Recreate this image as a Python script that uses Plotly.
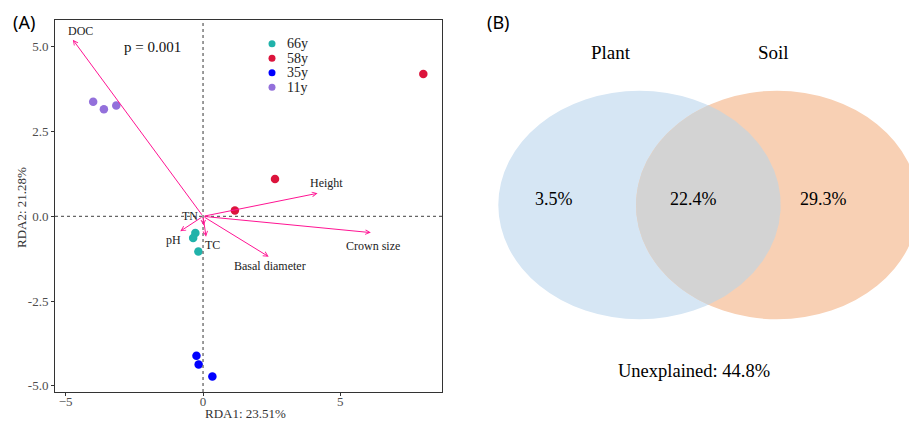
import numpy as np
import plotly.graph_objects as go

# ---------------- data ----------------
groups = ["66y", "58y", "35y", "11y"]
group_colors = ["#20B2AA", "#DC143C", "#0000FF", "#9370DB"]
rda1 = {
    "66y": [-0.28, -0.36, -0.17],
    "58y": [8.02, 2.62, 1.16],
    "35y": [-0.24, -0.16, 0.34],
    "11y": [-4.00, -3.61, -3.16],
}
rda2 = {
    "66y": [-0.49, -0.64, -1.04],
    "58y": [4.20, 1.10, 0.17],
    "35y": [-4.11, -4.37, -4.72],
    "11y": [3.38, 3.16, 3.27],
}
env_names = ["DOC", "Height", "Crown size", "Basal diameter", "pH", "TC", "TN"]
env_x = [-4.74, 4.17, 6.11, 2.39, -0.83, 0.11, 0.02]
env_y = [5.21, 0.68, -0.48, -1.19, -0.44, -0.60, -0.27]
env_lab_x = [-4.46, 4.48, 6.20, 2.42, -1.09, 0.36, -0.46]
env_lab_y = [5.48, 0.97, -0.86, -1.45, -0.70, -0.84, 0.00]
x_title = "RDA1: 23.51%"
y_title = "RDA2: 21.28%"
p_text = "p = 0.001"

venn_sets = ["Plant", "Soil"]
venn_values = [3.5, 22.4, 29.3]   # plant only, shared, soil only
unexplained = 44.8

W, H = 909, 421
SERIF = "Liberation Serif"
ARROW = "#FF1493"

fig = go.Figure()

for g, c in zip(groups, group_colors):
    fig.add_trace(go.Scatter(
        x=rda1[g], y=rda2[g], mode="markers", name=g, showlegend=False,
        marker=dict(color=c, size=8.5, line=dict(width=0)),
        xaxis="x", yaxis="y"))

# plot area (pixels)
L, R, T, B = 55, 442, 20, 392
xr = [-5.39, 8.70]
yr = [-5.18, 5.79]

annotations = []
for name, tx, ty, lx, ly in zip(env_names, env_x, env_y, env_lab_x, env_lab_y):
    annotations.append(dict(
        x=tx, y=ty, ax=0, ay=0, xref="x", yref="y", axref="x", ayref="y",
        showarrow=True, arrowhead=5, arrowsize=0.9, arrowwidth=1,
        arrowcolor=ARROW, text=""))
    annotations.append(dict(
        x=lx, y=ly, xref="x", yref="y", text=name, showarrow=False,
        xanchor="center", yanchor="middle",
        font=dict(family=SERIF, size=12, color="#222")))

annotations.append(dict(x=-1.83, y=5.0, xref="x", yref="y", text=p_text,
                        xanchor="center", yanchor="middle", showarrow=False,
                        font=dict(family=SERIF, size=15, color="#111")))

def pix(x, y, text, size, family=SERIF, color="#000", angle=0, xanchor="center"):
    return dict(x=x, y=y, xref="x3", yref="y3", text=text, showarrow=False,
                xanchor=xanchor, yanchor="middle", textangle=angle,
                font=dict(family=family, size=size, color=color))

annotations.append(pix(245, 413.5, x_title, 13, color="#333"))
annotations.append(pix(21, 208, y_title, 13, color="#333", angle=-90))
annotations.append(pix(24, 22, "(A)", 18, family="Noto Sans"))
annotations.append(pix(498, 22, "(B)", 18, family="Noto Sans"))

# manual legend (pixel layer)
leg_y = [43.7 + i * 14.55 for i in range(len(groups))]
fig.add_trace(go.Scatter(x=[272] * len(groups), y=leg_y, mode="markers",
                         marker=dict(color=group_colors, size=7), showlegend=False,
                         hoverinfo="skip", xaxis="x3", yaxis="y3"))
for g, yy in zip(groups, leg_y):
    annotations.append(pix(285, yy, g, 14, color="#222", xanchor="left"))

shapes = [
    dict(type="line", xref="x", yref="paper", x0=0, x1=0, y0=1 - B / H, y1=1 - T / H,
         line=dict(color="#666", width=1.3, dash="dot")),
    dict(type="line", xref="paper", yref="y", x0=L / W, x1=R / W, y0=0, y1=0,
         line=dict(color="#666", width=1.3, dash="dot")),
]

# ---------------- Venn (pixel coordinates on x2/y2) ----------------
cxL, cxR, cy = 639.5, 777.2, 205.0
rx, ry = 141.2, 114.3
shapes.append(dict(type="circle", xref="x2", yref="y2", layer="below",
                   x0=cxL - rx, x1=cxL + rx, y0=cy - ry, y1=cy + ry,
                   fillcolor="#D6E6F4", line=dict(width=0)))
shapes.append(dict(type="circle", xref="x2", yref="y2", layer="below",
                   x0=cxR - rx, x1=cxR + rx, y0=cy - ry, y1=cy + ry,
                   fillcolor="#F8D0B4", line=dict(width=0)))
# lens (overlap)
xm = (cxL + cxR) / 2
dy_int = ry * np.sqrt(1 - ((xm - cxL) / rx) ** 2)
ys = np.linspace(-dy_int, dy_int, 120)
left_arc_x = cxR - rx * np.sqrt(np.clip(1 - (ys / ry) ** 2, 0, None))
right_arc_x = cxL + rx * np.sqrt(np.clip(1 - (ys / ry) ** 2, 0, None))
lens_x = np.concatenate([left_arc_x, right_arc_x[::-1]])
lens_y = np.concatenate([cy + ys, cy + ys[::-1]])
fig.add_trace(go.Scatter(x=lens_x, y=lens_y, fill="toself", fillcolor="#D3D3D3",
                         mode="lines", line=dict(width=0), hoverinfo="skip",
                         showlegend=False, xaxis="x2", yaxis="y2"))

for name, px in zip(venn_sets, [611, 773]):
    annotations.append(dict(x=px, y=52, xref="x2", yref="y2", text=name, showarrow=False,
                            xanchor="center", yanchor="middle",
                            font=dict(family=SERIF, size=19, color="#000")))
for v, px in zip(venn_values, [554, 693, 823]):
    annotations.append(dict(x=px, y=199, xref="x2", yref="y2", text=f"{v}%", showarrow=False,
                            xanchor="center", yanchor="middle",
                            font=dict(family=SERIF, size=18, color="#000")))
annotations.append(dict(x=694, y=371, xref="x2", yref="y2", text=f"Unexplained: {unexplained}%",
                        xanchor="center", yanchor="middle",
                        showarrow=False, font=dict(family=SERIF, size=18.5, color="#000")))

fig.update_layout(
    width=W, height=H, margin=dict(l=0, r=0, t=0, b=0),
    paper_bgcolor="white", plot_bgcolor="rgba(0,0,0,0)",
    showlegend=False,
    xaxis=dict(domain=[L / W, R / W], range=xr, showgrid=False, zeroline=False,
               showline=True, mirror=True, linecolor="#333", linewidth=1,
               ticks="outside", ticklen=3, tickcolor="#333", tickvals=[-5, 0, 5],
               ticklabelstandoff=-6,
               tickfont=dict(family=SERIF, size=13, color="#4D4D4D")),
    yaxis=dict(domain=[1 - B / H, 1 - T / H], range=yr, showgrid=False, zeroline=False,
               showline=True, mirror=True, linecolor="#333", linewidth=1,
               ticks="outside", ticklen=3, tickcolor="#333",
               tickvals=[-5, -2.5, 0, 2.5, 5], ticktext=["-5.0", "-2.5", "0.0", "2.5", "5.0"],
               tickfont=dict(family=SERIF, size=13, color="#4D4D4D")),
    xaxis2=dict(domain=[460 / W, 1], range=[460, 909], visible=False, fixedrange=True),
    yaxis2=dict(domain=[0, 1], range=[421, 0], visible=False, fixedrange=True),
    xaxis3=dict(domain=[0, 1], range=[0, W], visible=False, fixedrange=True),
    yaxis3=dict(domain=[0, 1], range=[H, 0], visible=False, fixedrange=True),
    annotations=annotations, shapes=shapes,
)

fig.write_html("out.html")
